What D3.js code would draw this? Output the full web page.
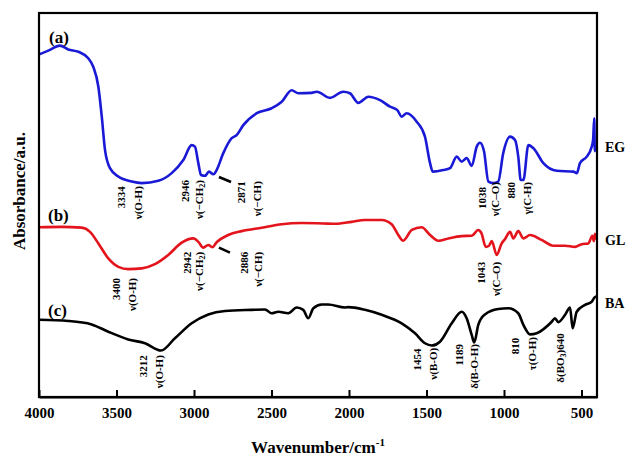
<!DOCTYPE html>
<html><head><meta charset="utf-8">
<script src="https://cdn.jsdelivr.net/npm/d3@7"></script>
<style>
html,body{margin:0;padding:0;background:#fff;}
text{font-family:"Liberation Serif","Times New Roman",serif;font-weight:bold;}
</style></head>
<body><svg id="chart" width="631" height="456"></svg>
<script>
// ---------- data ----------
const wavenumberTicks = [4000, 3500, 3000, 2500, 2000, 1500, 1000, 500];
const seriesNames = ["EG", "GL", "BA"];
const panelTags = ["(a)", "(b)", "(c)"];
const seriesColors = ["#1a1ad6", "#e3141b", "#000000"];

// [wavenumber (cm-1), absorbance (a.u., offset)]
const egSpectrum = [[4000,89.2],[3940,90.2],[3865,91.5],[3811,90.5],[3746,89.9],[3682,88.2],[3650,86.0],[3617,80.8],[3595,73.0],[3574,64.3],[3542,59.6],[3488,57.4],[3402,56.1],[3337,55.7],[3230,56.3],[3144,58.3],[3069,61.7],[3015,65.6],[2994,65.2],[2972,60.9],[2955,57.8],[2929,57.6],[2903,58.7],[2875,58.0],[2854,59.1],[2811,63.5],[2757,67.4],[2725,68.2],[2682,70.8],[2595,73.9],[2499,75.2],[2434,76.9],[2370,79.9],[2327,79.1],[2241,79.2],[2208,79.5],[2123,77.9],[2037,79.5],[1994,79.1],[1940,76.6],[1875,78.2],[1800,77.3],[1735,75.6],[1688,74.7],[1660,73.0],[1628,73.9],[1563,71.7],[1510,67.8],[1477,60.9],[1460,58.7],[1392,59.1],[1348,59.6],[1305,62.6],[1273,61.3],[1241,62.2],[1208,60.2],[1176,65.2],[1155,66.2],[1129,64.0],[1101,56.1],[1069,55.7],[1037,56.1],[1005,63.5],[961,67.8],[929,66.9],[908,62.6],[892,56.5],[875,56.5],[843,65.6],[810,64.8],[746,60.9],[660,58.9],[552,58.7],[530,58.3],[510,60.9],[466,62.6],[434,65.2],[425,67.0],[418,72.6],[414,64.0],[408,65.5]];

const glSpectrum = [[4000,44.2],[3854,44.3],[3725,44.1],[3671,43.0],[3617,40.0],[3553,36.1],[3488,33.9],[3424,33.3],[3337,33.5],[3252,34.6],[3166,37.0],[3079,40.2],[3005,41.3],[2972,40.4],[2940,38.9],[2908,39.6],[2882,39.0],[2854,40.3],[2779,42.2],[2692,43.2],[2563,44.1],[2434,45.0],[2305,45.3],[2166,45.2],[2090,45.1],[1983,45.6],[1897,46.1],[1789,46.1],[1725,45.0],[1682,42.2],[1650,40.7],[1595,43.5],[1531,44.2],[1477,42.2],[1424,40.7],[1359,41.3],[1273,41.9],[1208,42.0],[1166,43.5],[1145,42.6],[1118,39.1],[1097,39.4],[1079,40.6],[1047,37.0],[1015,40.0],[994,41.1],[961,43.0],[940,41.3],[908,43.2],[875,41.3],[832,42.2],[757,40.9],[682,39.4],[606,39.4],[542,39.1],[499,39.8],[456,40.0],[430,42.0],[420,40.6],[413,42.5],[405,41.0]];

const baSpectrum = [[4000,20.1],[3811,19.8],[3660,18.9],[3553,17.0],[3424,15.0],[3316,14.0],[3213,12.1],[3123,15.3],[3015,19.2],[2908,21.5],[2800,22.4],[2628,22.7],[2542,22.8],[2499,21.8],[2456,22.2],[2392,21.8],[2337,23.3],[2295,22.7],[2263,20.5],[2230,23.1],[2176,24.1],[2134,24.1],[2026,23.3],[2005,23.4],[1897,22.7],[1789,21.4],[1660,19.2],[1574,16.6],[1510,14.0],[1466,13.4],[1413,14.4],[1337,19.2],[1273,22.2],[1241,20.5],[1208,16.1],[1192,14.2],[1166,18.8],[1123,21.5],[1037,22.9],[972,23.1],[908,21.8],[875,18.8],[832,16.3],[789,16.6],[735,18.0],[692,19.6],[671,20.5],[650,19.5],[606,21.4],[574,23.3],[557,17.9],[531,22.2],[477,24.0],[434,24.8],[417,25.9],[405,26.2]];

// band annotations: text ("_" marks a subscript), anchor wavenumber and absorbance (top of rotated text)
const bandLabels = [
  {t:"3334", wn:3468, a:54.9}, {t:"ν(O-H)", wn:3361, a:54.9},
  {t:"2946", wn:3058, a:56.5}, {t:"ν(−CH_2)", wn:2968, a:56.5},
  {t:"2871", wn:2694, a:56.2}, {t:"ν(−CH)", wn:2594, a:56.2},
  {t:"1038", wn:1144, a:54.7}, {t:"ν(C–O)", wn:1055, a:56.0},
  {t:"880", wn:958, a:56.0}, {t:"γ(C-H)", wn:854, a:56.0},
  {t:"3400", wn:3503, a:31.0}, {t:"ν(O-H)", wn:3403, a:31.0},
  {t:"2942", wn:3048, a:37.8}, {t:"ν(−CH_2)", wn:2965, a:37.8},
  {t:"2886", wn:2677, a:37.8}, {t:"ν(−CH)", wn:2587, a:37.8},
  {t:"1043", wn:1148, a:35.2}, {t:"ν(C–O)", wn:1052, a:35.2},
  {t:"3212", wn:3327, a:10.9}, {t:"ν(O-H)", wn:3224, a:10.9},
  {t:"1454", wn:1561, a:12.6}, {t:"ν(B-O)", wn:1456, a:12.8},
  {t:"1189", wn:1290, a:13.8}, {t:"δ(B-O-H)", wn:1194, a:13.8},
  {t:"810", wn:926, a:15.4}, {t:"τ(O-H)", wn:821, a:15.6},
  {t:"δ(BO_3)640", wn:639, a:16.6}
];
// leader dashes [wn1, a1, wn2, a2]
const leaderLines = [[2839,57.3,2761,56.0],[2839,38.9,2768,37.6]];
// panel tag anchors and series name anchors (absorbance)
const panelTagPos = [[3935,92.2],[3942,45.8],[3942,21.1]];
const seriesNamePos = [63.8, 39.6, 23.2];

// ---------- drawing ----------
const svg = d3.select("#chart");
const x = d3.scaleLinear().domain([4000, 400]).range([39, 597]);
const y = d3.scaleLinear().domain([0, 100]).range([397, 13]);

const line = d3.line().x(d => x(d[0])).y(d => y(d[1])).curve(d3.curveMonotoneX);
[egSpectrum, glSpectrum, baSpectrum].forEach((s, i) => {
  svg.append("path").attr("d", line(s)).attr("fill", "none")
    .attr("stroke", seriesColors[i]).attr("stroke-width", 2.6)
    .attr("stroke-linejoin", "round");
});

// frame
svg.append("rect").attr("x", x(4000)).attr("y", y(100))
  .attr("width", x(400) - x(4000)).attr("height", y(0) - y(100))
  .attr("fill", "none").attr("stroke", "#000").attr("stroke-width", 2.2);

// x axis
const ax = svg.append("g").attr("transform", `translate(0,${y(0)})`)
  .call(d3.axisBottom(x).tickValues(wavenumberTicks).tickFormat(d3.format("d"))
    .tickSizeInner(-7).tickSizeOuter(0).tickPadding(10.5));
ax.select(".domain").attr("stroke", "#000").attr("stroke-width", 2.2);
ax.selectAll(".tick line").attr("stroke", "#000").attr("stroke-width", 2);
ax.selectAll(".tick text").attr("fill", "#000")
  .style("font-family", "'Liberation Serif','Times New Roman',serif")
  .style("font-weight", "bold").style("font-size", "15px");

// axis titles
const xt = svg.append("text").attr("x", 318).attr("y", 453)
  .attr("text-anchor", "middle").style("font-size", "17px").text("Wavenumber/cm");
xt.append("tspan").attr("dy", -7).style("font-size", "11px").text("-1");
svg.append("text").attr("transform", "translate(25,191) rotate(-90)")
  .attr("text-anchor", "middle").style("font-size", "17px").text("Absorbance/a.u.");

// panel tags
panelTags.forEach((t, i) => {
  svg.append("text").attr("x", x(panelTagPos[i][0])).attr("y", y(panelTagPos[i][1]))
    .style("font-size", "17px").text(t);
});
// series names
seriesNames.forEach((t, i) => {
  svg.append("text").attr("x", x(400) + 8).attr("y", y(seriesNamePos[i]))
    .style("font-size", "14px").text(t);
});

// band annotations
bandLabels.forEach(b => {
  const tx = svg.append("text")
    .attr("transform", `translate(${x(b.wn)},${y(b.a)}) rotate(-90)`)
    .attr("text-anchor", "end").attr("dominant-baseline", "central")
    .style("font-size", "11px");
  const parts = b.t.split("_");
  tx.append("tspan").text(parts[0]);
  if (parts.length > 1) {
    const sub = parts[1][0], rest = parts[1].slice(1);
    tx.append("tspan").attr("dy", 3).style("font-size", "8px").text(sub);
    tx.append("tspan").attr("dy", -3).text(rest);
  }
});
leaderLines.forEach(l => {
  svg.append("line").attr("x1", x(l[0])).attr("y1", y(l[1]))
    .attr("x2", x(l[2])).attr("y2", y(l[3]))
    .attr("stroke", "#000").attr("stroke-width", 2.6);
});
</script></body></html>
